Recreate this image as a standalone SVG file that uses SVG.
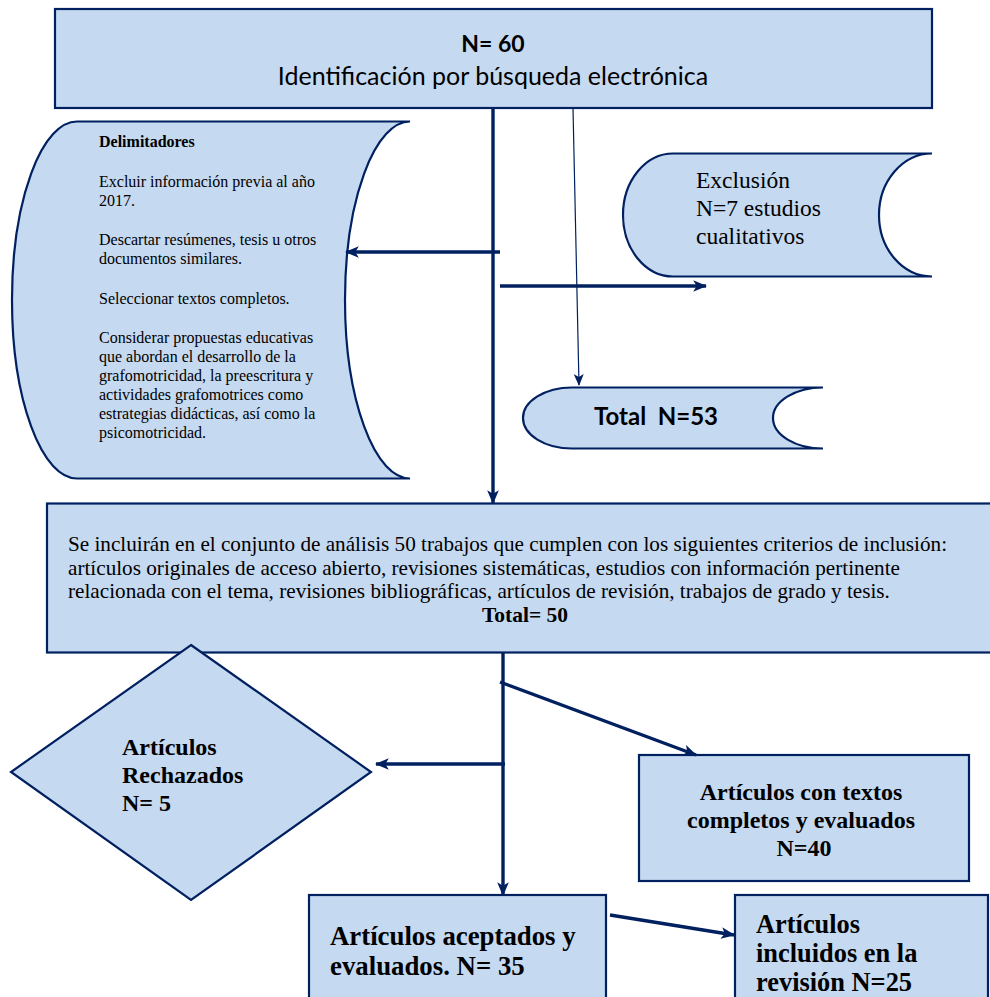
<svg xmlns="http://www.w3.org/2000/svg" width="990" height="997" viewBox="0 0 990 997">
<defs>
<style>
.n{fill:#C5D9F1;stroke:#002060;stroke-width:2.2}
.c{stroke:#002060;stroke-width:3.4;fill:none}
.t{stroke:#002060;stroke-width:1.2;fill:none}
.s{font-family:"Liberation Serif","Times New Roman",serif;fill:#000}
.k{font-family:Lato,"Liberation Sans",sans-serif;fill:#000}
.b{font-weight:bold}
</style>
<marker id="ah" viewBox="0 0 12 10" refX="11" refY="5" markerWidth="14" markerHeight="12" markerUnits="userSpaceOnUse" orient="auto">
<path d="M0,0 L12,5 L0,10 L3,5 Z" fill="#002060"/>
</marker>
<marker id="ahs" viewBox="0 0 12 10" refX="11" refY="5" markerWidth="12" markerHeight="10" markerUnits="userSpaceOnUse" orient="auto">
<path d="M0,0 L12,5 L0,10 L3,5 Z" fill="#002060"/>
</marker>
</defs>

<g id="identificacion">
<rect class="n" x="55" y="9" width="877" height="99"/>
<text class="k b" x="493" y="52" font-size="23" text-anchor="middle">N= 60</text>
<text class="k" x="493" y="85" font-size="25" text-anchor="middle">Identificación por búsqueda electrónica</text>
</g>

<g id="delimitadores">
<path class="n" d="M410,121.5 L77,121.5 A65,178.5 0 0 0 77,478.5 L410,478.5 A65,178.5 0 0 1 410,121.5 Z"/>
<text class="s b" x="99" y="147" font-size="16">Delimitadores</text>
<text class="s" font-size="16">
<tspan x="99" y="187">Excluir información previa al año</tspan>
<tspan x="99" y="206">2017.</tspan>
<tspan x="99" y="245">Descartar resúmenes, tesis u otros</tspan>
<tspan x="99" y="264">documentos similares.</tspan>
<tspan x="99" y="304">Seleccionar textos completos.</tspan>
<tspan x="99" y="343">Considerar propuestas educativas</tspan>
<tspan x="99" y="362">que abordan el desarrollo de la</tspan>
<tspan x="99" y="381">grafomotricidad, la preescritura y</tspan>
<tspan x="99" y="400">actividades grafomotrices como</tspan>
<tspan x="99" y="419">estrategias didácticas, así como la</tspan>
<tspan x="99" y="438">psicomotricidad.</tspan>
</text>
</g>

<g id="exclusion">
<path class="n" d="M932,153.5 L673,153.5 A50,61.5 0 0 0 673,276.5 L932,276.5 A53,61.5 0 0 1 932,153.5 Z"/>
<text class="s" font-size="23.5">
<tspan x="696" y="188">Exclusión</tspan>
<tspan x="696" y="216">N=7 estudios</tspan>
<tspan x="696" y="244">cualitativos</tspan>
</text>
</g>

<g id="total53">
<path class="n" d="M823,387.5 L572,387.5 A49,30.5 0 0 0 572,448.5 L823,448.5 A50,30.5 0 0 1 823,387.5 Z"/>
<text class="k b" x="594" y="425" font-size="24" xml:space="preserve">Total  N=53</text>
</g>

<g id="inclusion">
<rect class="n" x="47" y="503.5" width="950" height="149"/>
<text class="s" font-size="21.2">
<tspan x="68" y="551">Se incluirán en el conjunto de análisis 50 trabajos que cumplen con los siguientes criterios de inclusión:</tspan>
<tspan x="68" y="575">artículos originales de acceso abierto, revisiones sistemáticas, estudios con información pertinente</tspan>
<tspan x="68" y="598">relacionada con el tema, revisiones bibliográficas, artículos de revisión, trabajos de grado y tesis.</tspan>
</text>
<text class="s b" x="525" y="622" font-size="21.5" text-anchor="middle">Total= 50</text>
</g>

<g id="rechazados">
<path class="n" d="M191,645 L371,772 L191,900 L11,772 Z"/>
<text class="s b" font-size="24">
<tspan x="122" y="755">Artículos</tspan>
<tspan x="122" y="783">Rechazados</tspan>
<tspan x="122" y="811">N= 5</tspan>
</text>
</g>

<g id="textos-completos">
<rect class="n" x="639" y="755" width="330" height="126"/>
<text class="s b" font-size="24" text-anchor="middle">
<tspan x="804" y="800">Artículos con textos</tspan>
<tspan x="804" y="828">completos y evaluados</tspan>
<tspan x="804" y="856">N=40</tspan>
</text>
</g>

<g id="aceptados">
<rect class="n" x="309" y="895" width="297" height="120"/>
<text class="s b" font-size="26.8">
<tspan x="330" y="945">Artículos aceptados y</tspan>
<tspan x="330" y="975">evaluados. N= 35</tspan>
</text>
</g>

<g id="incluidos">
<rect class="n" x="735" y="895" width="253" height="120"/>
<text class="s b" font-size="26.4">
<tspan x="756" y="933">Artículos</tspan>
<tspan x="756" y="962">incluidos en la</tspan>
<tspan x="756" y="991">revisión N=25</tspan>
</text>
</g>

<g id="connectors">
<line class="c" x1="493" y1="108" x2="493" y2="503" marker-end="url(#ah)"/>
<line class="c" x1="500" y1="252" x2="346" y2="252" marker-end="url(#ah)"/>
<line class="c" x1="500" y1="286" x2="706" y2="286" marker-end="url(#ah)"/>
<line class="t" x1="573" y1="108" x2="579" y2="385" marker-end="url(#ahs)"/>
<line class="c" x1="503" y1="653" x2="503" y2="895" marker-end="url(#ah)"/>
<line class="c" x1="500" y1="682" x2="696" y2="755" marker-end="url(#ah)"/>
<line class="c" x1="505" y1="764" x2="376" y2="764" marker-end="url(#ah)"/>
<line class="c" x1="610" y1="915" x2="734" y2="935" marker-end="url(#ah)"/>
</g>
</svg>
